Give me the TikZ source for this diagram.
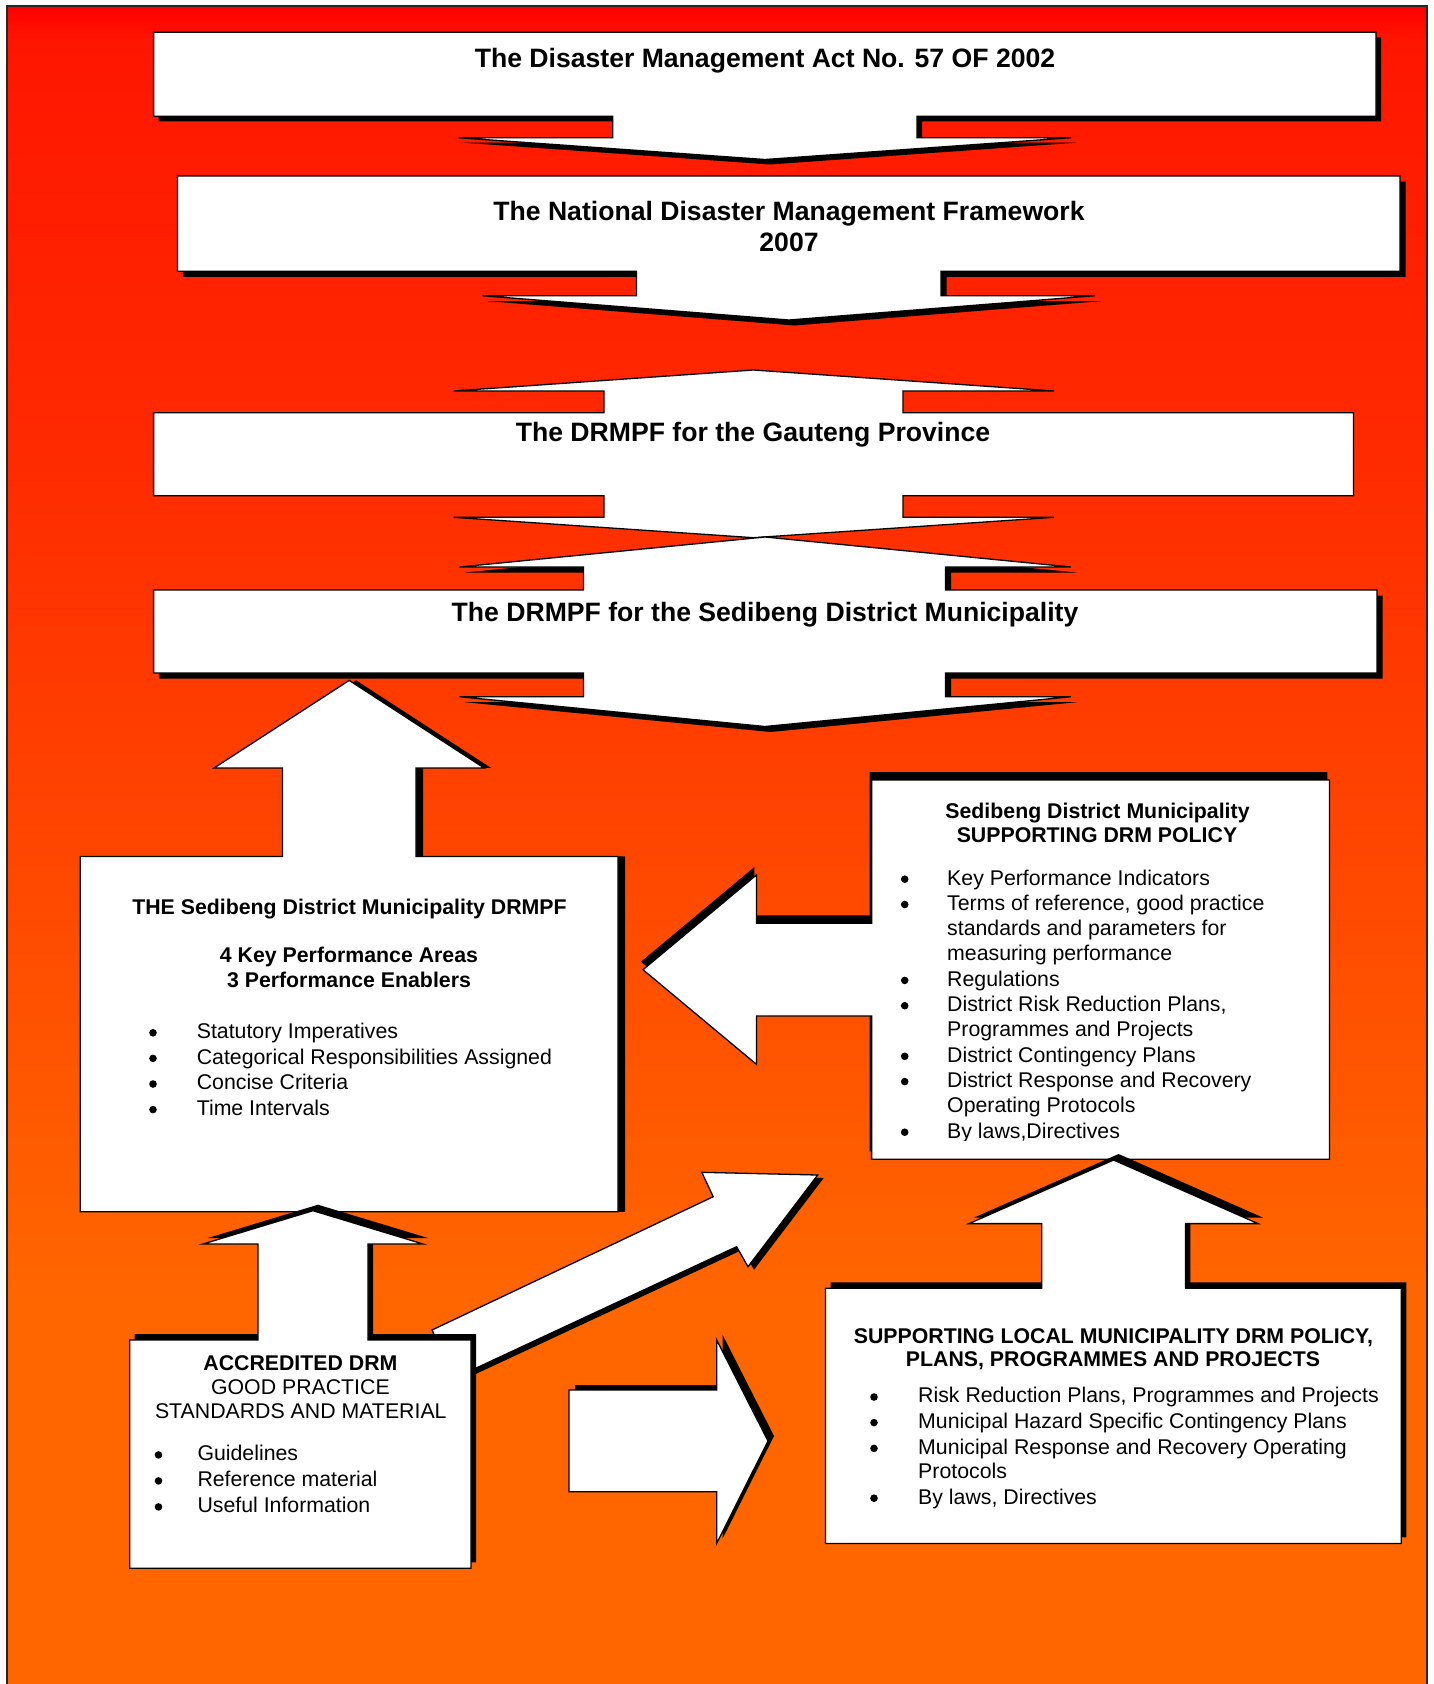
\documentclass[tikz,border=0pt]{standalone}
\usepackage{fontspec}
\setmainfont{Liberation Sans}
\usetikzlibrary{calc}
\definecolor{bgA}{RGB}{255,0,0}
\definecolor{bgB}{RGB}{255,22,0}
\definecolor{bgC}{RGB}{255,42,0}
\definecolor{bgD}{RGB}{255,102,0}
\newcommand\fbig{\fontsize{26.6}{31.7}\selectfont\bfseries}
\newcommand\fsm{\fontsize{21.3}{25.3}\selectfont}
\tikzset{
  whiteshape/.style={fill=white, draw=black, line width=1.3pt},
  tbig/.style={font=\fbig, inner sep=0pt, anchor=base},
  tsb/.style={font=\fsm\bfseries, inner sep=0pt, anchor=base},
  tsc/.style={font=\fsm, inner sep=0pt, anchor=base},
  tsl/.style={font=\fsm, inner sep=0pt, anchor=base west},
  bul/.style={circle, fill=black, inner sep=0pt, minimum size=7.6pt},
}
% shadowed shape: dx, dy, path
\newcommand\shp[3]{%
  \fill[black, shift={(#1,#2)}] #3;
  \filldraw[whiteshape] #3;
}
% bullet line: name, bullet x, text x, baseline y, text
\newcommand\bline[5]{%
  \node[bul] (#1b) at ($(#2,#4)+(0,-5.8)$) {};
  \node[tsl] (#1) at (#3,#4) {#5};
}
% continuation line: name, text x, baseline y, text
\newcommand\contline[4]{%
  \node[tsl] (#1) at (#2,#3) {#4};
}
\begin{document}
\begin{tikzpicture}[x=1pt,y=-1pt]
\useasboundingbox (0,0) rectangle (1434,1684);
\fill[white] (0,0) rectangle (1434,1684);
% background gradient
\shade[top color=bgA, bottom color=bgB] (7,6) rectangle (1427,41);
\shade[top color=bgB, bottom color=bgC] (7,40) rectangle (1427,451);
\shade[top color=bgC, bottom color=bgD] (7,450) rectangle (1427,1301);
\fill[bgD] (7,1300) rectangle (1427,1684);
\draw[line width=1.3pt, black!85] (7,1690) -- (7,6) -- (1427,6) -- (1427,1690);

% Shape 1
\shp{5}{5}{(153.6,32.3) -- (1376,32.3) -- (1376,116.3) -- (917,116.3) -- (917,137.7) -- (1071,137.7) -- (765,159.5) -- (458.6,137.7) -- (612.7,137.7) -- (612.7,116.3) -- (153.6,116.3) -- cycle}
% Shape 2
\shp{5.5}{5.5}{(177.4,176) -- (1400,176) -- (1400,271.3) -- (941,271.3) -- (941,295.7) -- (1095,295.7) -- (789,320) -- (482.4,295.7) -- (636.5,295.7) -- (636.5,271.3) -- (177.4,271.3) -- cycle}
% Shape 3 (no shadow)
\filldraw[whiteshape] (153.6,412.7) -- (604,412.7) -- (604,391) -- (453.6,391) -- (753.5,370) -- (1054,391) -- (903,391) -- (903,412.7) -- (1353.5,412.7) -- (1353.5,495.7) -- (903,495.7) -- (903,517.3) -- (1054,517.3) -- (753.5,537.7) -- (453.6,517.3) -- (604,517.3) -- (604,495.7) -- (153.6,495.7) -- cycle;
% Shape 4
\shp{5.5}{5.5}{(153.6,590) -- (583.5,590) -- (583.5,567) -- (459.4,567) -- (765,537) -- (1071,567) -- (945.5,567) -- (945.5,590) -- (1377,590) -- (1377,673) -- (945.5,673) -- (945.5,696.7) -- (1071,696.7) -- (765,726.5) -- (459.4,696.7) -- (583.5,696.7) -- (583.5,673) -- (153.6,673) -- cycle}
% Shape A
\shp{7}{0}{(80.3,856.4) -- (282.4,856.4) -- (282.4,767.9) -- (214.2,767.9) -- (349.2,680.4) -- (484,767.9) -- (416,767.9) -- (416,856.4) -- (618,856.4) -- (618,1211.8) -- (80.3,1211.8) -- cycle}
% Shape B
\shp{-2}{-8}{(871.6,780) -- (1329.4,780) -- (1329.4,1159.3) -- (871.6,1159.3) -- (871.6,1016) -- (756.4,1016) -- (756.4,1064.3) -- (643,969.7) -- (756.4,875) -- (756.4,923.3) -- (871.6,923.3) -- cycle}
% Shape C
\shp{5}{-6}{(825.5,1288.3) -- (1041.8,1288.3) -- (1041.8,1223.6) -- (969,1223.6) -- (1113.6,1160) -- (1258,1223.6) -- (1185.4,1223.6) -- (1185.4,1288.3) -- (1401.3,1288.3) -- (1401.3,1543.4) -- (825.5,1543.4) -- cycle}
% Diagonal arrow
\shp{6}{3}{(432,1330) -- (713.2,1196.7) -- (701.8,1172.3) -- (817.7,1175) -- (748,1266.7) -- (736.6,1246.7) -- (454.7,1378) -- cycle}
% Shape D
\shp{5}{-6}{(129.7,1340) -- (258,1340) -- (258,1244) -- (203,1244) -- (313,1210.7) -- (423,1244) -- (368,1244) -- (368,1340) -- (471,1340) -- (471,1568.3) -- (129.7,1568.3) -- cycle}
% Shape E
\shp{6}{-5}{(569,1390) -- (716.7,1390) -- (716.7,1340) -- (768,1441) -- (716.7,1543.3) -- (716.7,1491.7) -- (569,1491.7) -- cycle}

% Titles
\node[tbig] (t1) at (765,67.7) {The Disaster Management Act No. 57 OF 2002};
\node[tbig] (t2a) at (789,220) {The National Disaster Management Framework};
\node[tbig] (t2b) at (789,251.7) {2007};
\node[tbig] (t3) at (753,441.7) {The DRMPF for the Gauteng Province};
\node[tbig] (t4) at (765,621.7) {The DRMPF for the Sedibeng District Municipality};

% Box A
\node[tsb] (a0) at (349.5,914.3) {THE Sedibeng District Municipality DRMPF};
\node[tsb] (a01) at (349,962.9) {4 Key Performance Areas};
\node[tsb] (a02) at (349,987) {3 Performance Enablers};
\bline{a1}{153}{196.6}{1038.6}{Statutory Imperatives}
\bline{a2}{153}{196.6}{1064.2}{Categorical Responsibilities Assigned}
\bline{a3}{153}{196.6}{1089.8}{Concise Criteria}
\bline{a4}{153}{196.6}{1115.4}{Time Intervals}

% Box B
\node[tsb] (b0) at (1097.5,818.3) {Sedibeng District Municipality};
\node[tsb] (b01) at (1097,842.3) {SUPPORTING DRM POLICY};
\begin{scope}
\clip (860,860) rectangle (1329,1140);
\bline{b1}{904.7}{947}{885}{Key Performance Indicators}
\bline{b2}{904.7}{947}{910.3}{Terms of reference, good practice}
\contline{b3}{947}{935.6}{standards and parameters for}
\contline{b4}{947}{960.9}{measuring performance}
\bline{b5}{904.7}{947}{986.2}{Regulations}
\bline{b6}{904.7}{947}{1011.5}{District Risk Reduction Plans,}
\contline{b7}{947}{1036.8}{Programmes and Projects}
\bline{b8}{904.7}{947}{1062.1}{District Contingency Plans}
\bline{b9}{904.7}{947}{1087.4}{District Response and Recovery}
\contline{b10}{947}{1112.7}{Operating Protocols}
\bline{b11}{904.7}{947}{1138}{By laws,Directives}
\end{scope}

% Box C
\node[tsb] (c0) at (1113.4,1343) {SUPPORTING LOCAL MUNICIPALITY DRM POLICY,};
\node[tsb] (c01) at (1113,1366.7) {PLANS, PROGRAMMES AND PROJECTS};
\bline{c1}{874}{918}{1402.8}{Risk Reduction Plans, Programmes and Projects}
\bline{c2}{874}{918}{1428.4}{Municipal Hazard Specific Contingency Plans}
\bline{c3}{874}{918}{1454.2}{Municipal Response and Recovery Operating}
\contline{c4}{918}{1478.5}{Protocols}
\bline{c5}{874}{918}{1504}{By laws, Directives}

% Box D
\node[tsb] (d0) at (300.4,1370) {ACCREDITED DRM};
\node[tsc] (d01) at (300.4,1394.5) {GOOD PRACTICE};
\node[tsc] (d02) at (300.8,1418.8) {STANDARDS AND MATERIAL};
\bline{d1}{158.5}{197.3}{1460.7}{Guidelines}
\bline{d2}{158.5}{197.3}{1486.7}{Reference material}
\bline{d3}{158.5}{197.3}{1512.7}{Useful Information}
\end{tikzpicture}
\end{document}
